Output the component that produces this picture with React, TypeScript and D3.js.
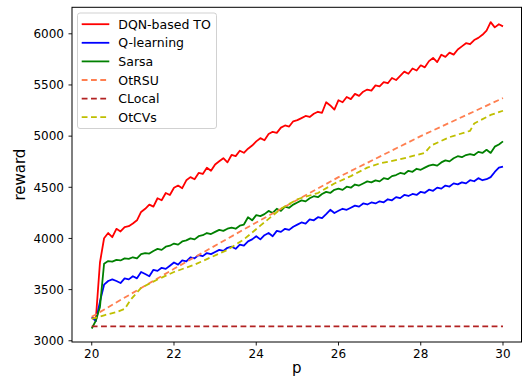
import React from 'react';
import * as d3 from 'd3';

// sample grid of p (x axis)
const pGrid: number[] = d3.range(0, 101).map((i) => +(20 + i * 0.1).toFixed(1));

const dqn: number[] = [
  3228, 3213, 3765, 4002, 4053, 4012, 4094, 4068, 4110, 4120,
  4146, 4177, 4259, 4290, 4331, 4311, 4393, 4373, 4444, 4424,
  4495, 4517, 4491, 4568, 4599, 4579, 4640, 4630, 4691, 4661,
  4723, 4754, 4784, 4744, 4816, 4805, 4857, 4837, 4877, 4908,
  4949, 4980, 4960, 5020, 5042, 5032, 5083, 5104, 5094, 5145,
  5156, 5176, 5197, 5187, 5218, 5238, 5228, 5331, 5300, 5259,
  5351, 5331, 5382, 5362, 5413, 5393, 5434, 5455, 5445, 5496,
  5486, 5527, 5517, 5568, 5548, 5589, 5630, 5610, 5661, 5641,
  5692, 5672, 5733, 5764, 5723, 5795, 5775, 5816, 5796, 5847,
  5877, 5908, 5898, 5939, 5960, 5990, 6032, 6114, 6063, 6093,
  6073,
];

const qlearning: number[] = [
  3228, 3192, 3383, 3548, 3584, 3600, 3584, 3564, 3610, 3600,
  3631, 3610, 3672, 3652, 3631, 3693, 3683, 3713, 3703, 3734,
  3765, 3744, 3785, 3775, 3816, 3806, 3837, 3827, 3857, 3847,
  3868, 3888, 3878, 3909, 3919, 3899, 3940, 3930, 3971, 3991,
  4022, 3991, 4032, 4053, 4022, 4074, 4064, 4094, 4084, 4115,
  4135, 4156, 4146, 4187, 4177, 4208, 4198, 4238, 4280, 4249,
  4270, 4290, 4280, 4300, 4321, 4311, 4342, 4332, 4352, 4342,
  4363, 4353, 4383, 4373, 4404, 4394, 4425, 4415, 4435, 4425,
  4456, 4446, 4476, 4466, 4497, 4487, 4517, 4507, 4538, 4528,
  4548, 4538, 4569, 4559, 4589, 4569, 4579, 4599, 4650, 4691,
  4701,
];

const sarsa: number[] = [
  3120, 3197, 3331, 3753, 3779, 3774, 3790, 3785, 3805, 3800,
  3816, 3805, 3847, 3857, 3852, 3878, 3898, 3888, 3919, 3929,
  3950, 3940, 3971, 3981, 4001, 3991, 4022, 4032, 4053, 4043,
  4064, 4084, 4074, 4095, 4105, 4095, 4125, 4136, 4207, 4177,
  4228, 4218, 4238, 4269, 4249, 4290, 4269, 4310, 4300, 4331,
  4352, 4372, 4362, 4393, 4413, 4403, 4434, 4455, 4445, 4475,
  4486, 4475, 4506, 4496, 4527, 4517, 4537, 4558, 4548, 4568,
  4558, 4589, 4579, 4609, 4620, 4640, 4630, 4661, 4651, 4681,
  4671, 4692, 4712, 4722, 4712, 4743, 4763, 4753, 4784, 4804,
  4794, 4815, 4825, 4815, 4846, 4836, 4866, 4836, 4897, 4918,
  4949,
];

const otrsuP: number[] = [20, 22, 24, 26, 28, 30];
const otrsu: number[] = [3234, 3703, 4156, 4599, 5000, 5372];

const clocalP: number[] = [20, 30];
const clocal: number[] = [3140, 3140];

const otcvsP: number[] = [
  20, 20.3, 20.6, 20.8, 20.95, 21.2, 21.6, 22, 22.5, 22.9, 23.3, 23.7, 24.1,
  24.6, 25, 25.5, 25.9, 26.3, 26.7, 27, 27.5, 27.9, 28.1, 28.25, 28.7, 29.2,
  29.3, 29.7, 30,
];
const otcvs: number[] = [
  3213, 3249, 3280, 3311, 3403, 3517, 3599, 3672, 3744, 3816, 3888, 3991, 4125,
  4290, 4383, 4444, 4537, 4609, 4692, 4733, 4774, 4815, 4836, 4908, 4990, 5052,
  5124, 5207, 5248,
];

const xTicks: number[] = [20, 22, 24, 26, 28, 30];
const yTicks: number[] = [3000, 3500, 4000, 4500, 5000, 5500, 6000];

const seriesNames: string[] = ['DQN-based TO', 'Q-learning', 'Sarsa', 'OtRSU', 'CLocal', 'OtCVs'];
const seriesColors: string[] = ['#ff0000', '#0000ff', '#008000', '#ff7f50', '#b22222', '#bfbf00'];
const seriesDashed: boolean[] = [false, false, false, true, true, true];

const W = 523;
const H = 386;
const L = 72;
const R = 521.5;
const T = 7.3;
const B = 342;
const FONT = 'DejaVu Sans';
const DASH = '5.8 3.5';

export default function App() {
  const x = d3.scaleLinear().domain([19.52, 30.45]).range([L, R]);
  const y = d3.scaleLinear().domain([2988, 6259]).range([B, T]);
  const line = d3
    .line<[number, number]>()
    .x((d) => x(d[0]))
    .y((d) => y(d[1]));

  const seriesData: [number, number][][] = [
    pGrid.map((p, i) => [p, dqn[i]]),
    pGrid.map((p, i) => [p, qlearning[i]]),
    pGrid.map((p, i) => [p, sarsa[i]]),
    otrsuP.map((p, i) => [p, otrsu[i]]),
    clocalP.map((p, i) => [p, clocal[i]]),
    otcvsP.map((p, i) => [p, otcvs[i]]),
  ];

  const legX = 77.5;
  const legY = 13;
  const legW = 139;
  const legH = 115.5;
  const rowY0 = 24.2;
  const rowStep = 18.6;

  return (
    <svg
      width={W}
      height={H}
      style={{ position: 'fixed', left: 0, top: 0, background: '#fff' }}
      fontFamily={FONT}
    >
      <rect x={0} y={0} width={W} height={H} fill="#fff" />
      <defs>
        <clipPath id="plotclip">
          <rect x={L} y={T} width={R - L} height={B - T} />
        </clipPath>
      </defs>
      <g clipPath="url(#plotclip)">
        {seriesData.map((d, i) => (
          <path
            key={seriesNames[i]}
            d={line(d) || ''}
            fill="none"
            stroke={seriesColors[i]}
            strokeWidth={1.8}
            strokeDasharray={seriesDashed[i] ? DASH : undefined}
            strokeLinejoin="round"
          />
        ))}
      </g>
      {/* axes frame */}
      <rect x={L} y={T} width={R - L} height={B - T} fill="none" stroke="#000" strokeWidth={1} />
      {/* x ticks */}
      {xTicks.map((t) => (
        <g key={'x' + t}>
          <line x1={x(t)} x2={x(t)} y1={B} y2={B + 3.5} stroke="#000" strokeWidth={0.9} />
          <text x={x(t)} y={B + 15.5} fontSize={12} textAnchor="middle" fill="#000">
            {t}
          </text>
        </g>
      ))}
      {/* y ticks */}
      {yTicks.map((t) => (
        <g key={'y' + t}>
          <line x1={L - 3.5} x2={L} y1={y(t)} y2={y(t)} stroke="#000" strokeWidth={0.9} />
          <text x={L - 8} y={y(t) + 4.3} fontSize={12} textAnchor="end" fill="#000">
            {t}
          </text>
        </g>
      ))}
      <text x={(L + R) / 2} y={373} fontSize={15} textAnchor="middle" fill="#000">
        p
      </text>
      <text
        transform={`translate(${25},${(T + B) / 2}) rotate(-90)`}
        fontSize={15}
        textAnchor="middle"
        fill="#000"
      >
        reward
      </text>
      {/* legend */}
      <rect
        x={legX}
        y={legY}
        width={legW}
        height={legH}
        rx={2.5}
        fill="#fff"
        fillOpacity={0.8}
        stroke="#cccccc"
        strokeWidth={0.9}
      />
      {seriesNames.map((n, i) => (
        <g key={'leg' + n}>
          <line
            x1={81.7}
            x2={109.3}
            y1={rowY0 + i * rowStep}
            y2={rowY0 + i * rowStep}
            stroke={seriesColors[i]}
            strokeWidth={1.8}
            strokeDasharray={seriesDashed[i] ? DASH : undefined}
          />
          <text x={118.3} y={rowY0 + i * rowStep + 4.5} fontSize={12.5} fill="#000">
            {n}
          </text>
        </g>
      ))}
    </svg>
  );
}
